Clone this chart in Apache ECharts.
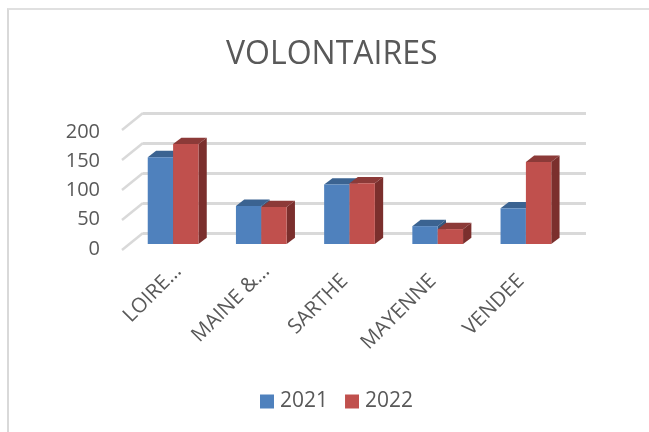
<!DOCTYPE html>
<html>
<head>
    <meta charset="utf-8">
    <script type="text/javascript" src="https://cdn.jsdelivr.net/npm/echarts@6/dist/echarts.min.js"></script>
    <style type="text/css">
        * {
            margin: 0;
            padding: 0;
        }
        body {
            background: #fff;
        }
        /*chart frame, only top and left edges are visible*/
        #frame {
            position: absolute;
            left: 7px;
            top: 8px;
            right: 0;
            bottom: 0;
            border-left: 2px solid #d9d9d9;
            border-top: 2px solid #e0e0e0;
        }
        #container {
            position: absolute;
            left: 0;
            top: 0;
            width: 649px;
            height: 432px;
        }
    </style>
</head>
<body>
<div id="frame"></div>
<div id="container"></div>

<script type="text/javascript">
    var categories = ['LOIRE…', 'MAINE &…', 'SARTHE', 'MAYENNE', 'VENDEE'];
    var values2021 = [146, 64, 100, 30, 60];
    var values2022 = [168, 62, 102, 25, 138];
    var yTicks = [0, 50, 100, 150, 200];

    var textColor = '#595959';
    var fontName = '"Open Sans"';
    var wallColor = '#d9d9d9';

    //bar depth in pixels
    var depthX = 8.3;
    var depthY = 6.3;
    //floor depth, from the back wall to the front edge
    var floorX = -21;
    var floorY = 17;

    function toPoints(values) {
        return values.map(function (v, i) {
            return [i, v];
        });
    }

    //labels not cut with an ellipsis end a bit earlier
    function toCategoryData(names) {
        return names.map(function (name) {
            var cut = name.indexOf('…') >= 0;
            return {value: name, textStyle: {padding: [0, cut ? 0 : 14, 0, 0]}};
        });
    }

    //one 3D bar: front, top and side faces
    function barRenderer(side, front, top, right) {
        return function (params, api) {
            var base = api.coord([api.value(0), 0]);
            var head = api.coord([api.value(0), api.value(1)]);
            var w = api.size([1, 0])[0] * 0.2875;
            var x0 = side < 0 ? base[0] - w : base[0];
            var x1 = x0 + w;
            return {
                type: 'group',
                children: [
                    {
                        type: 'polygon',
                        shape: {points: [[x0, head[1]], [x1, head[1]], [x1 + depthX, head[1] - depthY], [x0 + depthX, head[1] - depthY]]},
                        style: {fill: top}
                    },
                    {
                        type: 'polygon',
                        shape: {points: [[x1, head[1]], [x1 + depthX, head[1] - depthY], [x1 + depthX, base[1] - depthY], [x1, base[1]]]},
                        style: {fill: right}
                    },
                    {
                        type: 'rect',
                        shape: {x: x0, y: head[1], width: w, height: base[1] - head[1]},
                        style: {fill: front}
                    }
                ]
            };
        };
    }

    //diagonal wall lines from the back wall down to the front edge
    function wallRenderer(params, api) {
        var p = api.coord([0, api.value(0)]);
        var left = params.coordSys.x;
        return {
            type: 'line',
            shape: {x1: left, y1: p[1], x2: left + floorX, y2: p[1] + floorY},
            style: {stroke: wallColor, lineWidth: 2.5}
        };
    }

    var myChart = echarts.init(document.getElementById('container'), null, {renderer: 'canvas'});
    var option = {
        animation: false,
        backgroundColor: 'transparent',
        title: {
            text: 'VOLONTAIRES',
            left: 226,
            top: 39,
            padding: 0,
            textStyle: {color: textColor, fontFamily: fontName, fontSize: 32, fontWeight: 'normal'}
        },
        legend: {
            left: 260,
            top: 391,
            padding: 0,
            icon: 'rect',
            itemWidth: 14,
            itemHeight: 14,
            itemGap: 17,
            data: ['2021', '2022'],
            textStyle: {color: textColor, fontFamily: fontName, fontSize: 21, padding: [0, 0, 0, 1]}
        },
        grid: [
            //back wall
            {left: 143, top: 113, width: 443, height: 120},
            //plane of the bars front
            {left: 129, top: 125, width: 441, height: 119},
            //carries the labels of both axes
            {left: 134, top: 132, width: 441, height: 117}
        ],
        xAxis: [
            {
                type: 'category', gridIndex: 0, data: categories,
                axisLine: {show: false}, axisTick: {show: false}, axisLabel: {show: false}
            },
            {
                type: 'category', gridIndex: 1, data: categories, show: false
            },
            {
                type: 'category', gridIndex: 2, data: toCategoryData(categories),
                axisLine: {show: false},
                axisTick: {show: false},
                axisLabel: {
                    interval: 0,
                    rotate: 45,
                    margin: 19,
                    color: textColor,
                    fontFamily: fontName,
                    fontSize: 20.5
                }
            }
        ],
        yAxis: [
            {
                type: 'value', gridIndex: 0, min: 0, max: 200, interval: 50,
                axisLine: {show: false}, axisTick: {show: false}, axisLabel: {show: false},
                splitLine: {show: true, lineStyle: {color: wallColor, width: 3}}
            },
            {
                type: 'value', gridIndex: 1, min: 0, max: 200, interval: 50, show: false
            },
            {
                type: 'value', gridIndex: 2, min: 0, max: 200, interval: 50,
                axisLine: {show: false},
                axisTick: {show: false},
                splitLine: {show: false},
                axisLabel: {
                    margin: 34,
                    color: textColor,
                    fontFamily: fontName,
                    fontSize: 20
                }
            }
        ],
        series: [
            {
                type: 'custom',
                name: 'wall',
                xAxisIndex: 0,
                yAxisIndex: 0,
                z: 1,
                silent: true,
                renderItem: wallRenderer,
                encode: {y: 0},
                data: yTicks
            },
            {
                type: 'custom',
                name: '2021',
                xAxisIndex: 1,
                yAxisIndex: 1,
                z: 3,
                itemStyle: {color: '#4f81bd'},
                renderItem: barRenderer(-1, '#4f81bd', '#3b6391', '#34587f'),
                encode: {x: 0, y: 1},
                data: toPoints(values2021)
            },
            {
                type: 'custom',
                name: '2022',
                xAxisIndex: 1,
                yAxisIndex: 1,
                z: 4,
                itemStyle: {color: '#c0504d'},
                renderItem: barRenderer(1, '#c0504d', '#8c3a38', '#7b2f2d'),
                encode: {x: 0, y: 1},
                data: toPoints(values2022)
            }
        ]
    };
    myChart.setOption(option, true);
</script>
</body>
</html>
